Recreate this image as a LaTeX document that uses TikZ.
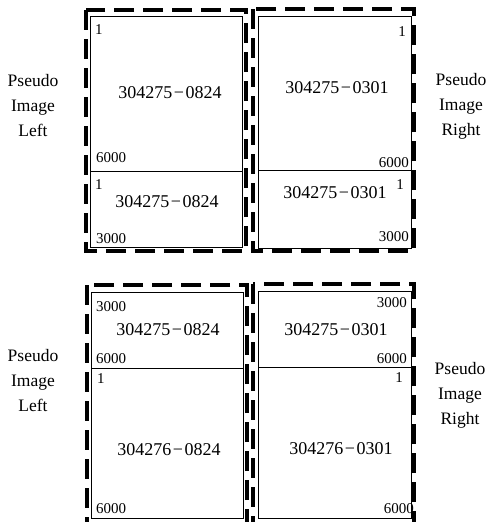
\documentclass[tikz,border=0pt]{standalone}
\usepackage{fontspec}
\setmainfont{Liberation Serif}
\begin{document}
\begin{tikzpicture}[x=1pt,y=-1pt,
  cell/.style={draw, line width=1pt, inner sep=0pt, outer sep=0pt},
  frame/.style={line width=3.6pt, dash pattern=on 20pt off 9pt},
  big/.style={inner sep=0pt, font=\fontsize{18}{20}\selectfont},
  small/.style={inner sep=0pt, font=\fontsize{15}{16}\selectfont},
  lbl/.style={inner sep=0pt, align=center, font=\fontsize{17.5}{25}\selectfont}]
\useasboundingbox (0,0) rectangle (503,522);
% ---------- top half ----------
\draw[frame] (86,10) rectangle (246,251);
\draw[frame] (253,9) rectangle (414,251);
\draw[cell] (90,16) rectangle (242,247);
\draw[cell] (90,171) -- (242,171);
\draw[cell] (258,16) rectangle (411,248);
\draw[cell] (258,170) -- (411,170);
\node[big] (a1) at (170,93) {304275\kern1.5pt−\kern1.5pt0824};
\node[big] (a2) at (167,202) {304275\kern1.5pt−\kern1.5pt0824};
\node[big] (b1) at (337,88) {304275\kern1.5pt−\kern1.5pt0301};
\node[big] (b2) at (335,193) {304275\kern1.5pt−\kern1.5pt0301};
\node[small, anchor=west] (a1s) at (95,30) {1};
\node[small, anchor=west] (a1e) at (96,158) {6000};
\node[small, anchor=west] (a2s) at (95,185) {1};
\node[small, anchor=west] (a2e) at (96,239) {3000};
\node[small, anchor=east] (b1s) at (406,32) {1};
\node[small, anchor=east] (b1e) at (409,163) {6000};
\node[small, anchor=east] (b2s) at (404,185) {1};
\node[small, anchor=east] (b2e) at (409,237) {3000};
\node[lbl] (L1) at (33,106) {Pseudo\\Image\\Left};
\node[lbl] (R1) at (461,106) {Pseudo\\Image\\Right};
% ---------- bottom half ----------
\draw[frame] (87,285) rectangle (247,530);
\draw[frame] (253,284) rectangle (414,530);
\draw[cell] (91,292) rectangle (243,518);
\draw[cell] (91,368) -- (243,368);
\draw[cell] (258,291) rectangle (411,518);
\draw[cell] (258,367) -- (411,367);
\node[big] (c1) at (168,330) {304275\kern1.5pt−\kern1.5pt0824};
\node[big] (c2) at (169,450) {304276\kern1.5pt−\kern1.5pt0824};
\node[big] (d1) at (336,330) {304275\kern1.5pt−\kern1.5pt0301};
\node[big] (d2) at (341,449) {304276\kern1.5pt−\kern1.5pt0301};
\node[small, anchor=west] (c1s) at (96,307) {3000};
\node[small, anchor=west] (c1e) at (96,359) {6000};
\node[small, anchor=west] (c2s) at (97,379) {1};
\node[small, anchor=west] (c2e) at (96,509) {6000};
\node[small, anchor=east] (d1s) at (407,303) {3000};
\node[small, anchor=east] (d1e) at (407,359) {6000};
\node[small, anchor=east] (d2s) at (403,378) {1};
\node[small, anchor=east] (d2e) at (414,509) {6000};
\node[lbl] (L2) at (33,381) {Pseudo\\Image\\Left};
\node[lbl] (R2) at (460,395) {Pseudo\\Image\\Right};
\end{tikzpicture}
\end{document}
